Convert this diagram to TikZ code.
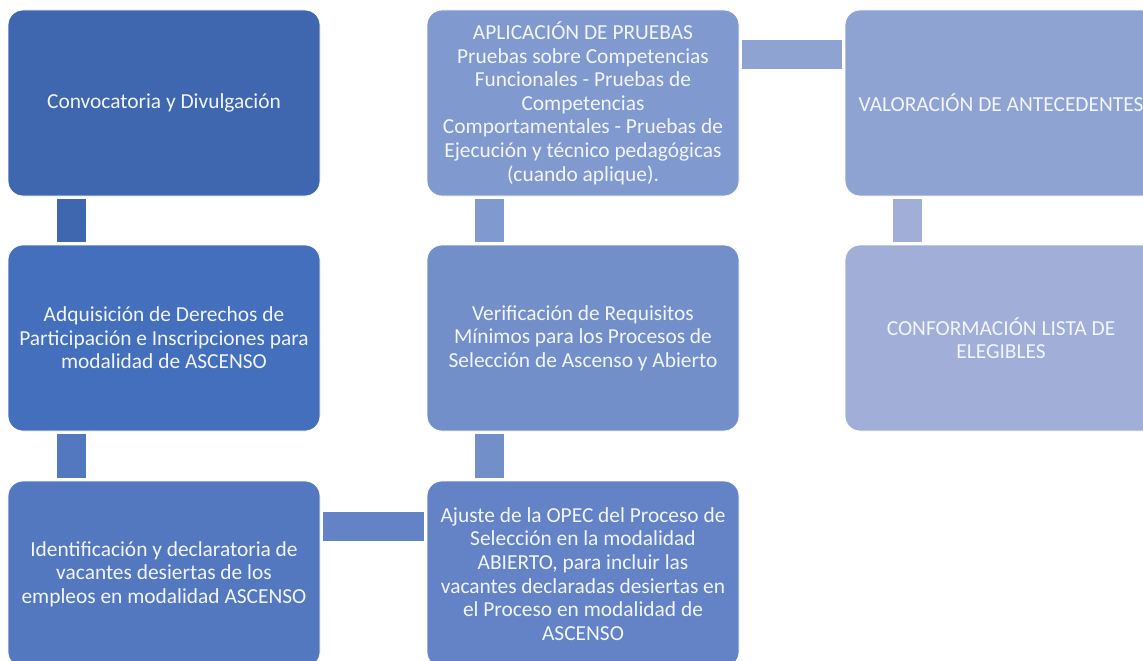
\documentclass[tikz,border=0pt]{standalone}
\usepackage{fontspec}
\setmainfont{Carlito}
\usepackage{tikz}

\definecolor{c1}{HTML}{3E67B0}
\definecolor{c2}{HTML}{446FBC}
\definecolor{c3}{HTML}{5478C0}
\definecolor{c4}{HTML}{6383C6}
\definecolor{c5}{HTML}{728FC9}
\definecolor{c6}{HTML}{8099CE}
\definecolor{c7}{HTML}{8FA3D3}
\definecolor{c8}{HTML}{A0AED8}
\definecolor{txt}{HTML}{F2F5FB}

\tikzset{
    box/.style={draw=white, line width=0.8pt, rectangle, rounded corners=15pt, anchor=north west,
        minimum width=312pt, minimum height=186pt, inner sep=4pt, outer sep=0pt,
        align=center, text=txt, font=\fontsize{21.4}{23.6}\selectfont},
    link/.style={line width=29pt, shorten <=3pt, shorten >=3pt}
}

\begin{document}
\begin{tikzpicture}[x=1pt, y=-1pt]
    \useasboundingbox (0,0) rectangle (1143,661);
    \clip (0,0) rectangle (1143,661);

    \node(conv)[box, fill=c1] at (8,10) {Convocatoria y Divulgación};
    \node(adq)[box, fill=c2] at (8,245) {Adquisición de Derechos de\\Participación e Inscripciones para\\modalidad de ASCENSO};
    \node(iden)[box, fill=c3] at (8,481) {Identificación y declaratoria de\\vacantes desiertas de los\\empleos en modalidad ASCENSO};
    \node(ajus)[box, fill=c4] at (427,481) {Ajuste de la OPEC del Proceso de\\Selección en la modalidad\\ABIERTO, para incluir las\\vacantes declaradas desiertas en\\el Proceso en modalidad de\\ASCENSO};
    \node(veri)[box, fill=c5] at (427,245) {Verificación de Requisitos\\Mínimos para los Procesos de\\Selección de Ascenso y Abierto};
    \node(apli)[box, fill=c6] at (427,10) {APLICACIÓN DE PRUEBAS\\Pruebas sobre Competencias\\Funcionales - Pruebas de\\Competencias\\Comportamentales - Pruebas de\\Ejecución y técnico pedagógicas\\(cuando aplique).};
    \node(valo)[box, fill=c7] at (845,10) {VALORACIÓN DE ANTECEDENTES};
    \node(conf)[box, fill=c8] at (845,245) {CONFORMACIÓN LISTA DE\\ELEGIBLES};

    \draw[link, draw=c1] ([xshift=63.5pt]conv.south west) -- ([xshift=63.5pt]adq.north west);
    \draw[link, draw=c3] ([xshift=63.5pt]adq.south west) -- ([xshift=63.5pt]iden.north west);
    \draw[link, draw=c4] ([yshift=-45pt]iden.north east) -- ([yshift=-45pt]ajus.north west);
    \draw[link, draw=c5] ([xshift=62.5pt]ajus.north west) -- ([xshift=62.5pt]veri.south west);
    \draw[link, draw=c6] ([xshift=62.5pt]veri.north west) -- ([xshift=62.5pt]apli.south west);
    \draw[link, draw=c7] ([yshift=-45pt]apli.north east) -- ([yshift=-45pt]valo.north west);
    \draw[link, draw=c8] ([xshift=62.5pt]valo.south west) -- ([xshift=62.5pt]conf.north west);
\end{tikzpicture}
\end{document}
